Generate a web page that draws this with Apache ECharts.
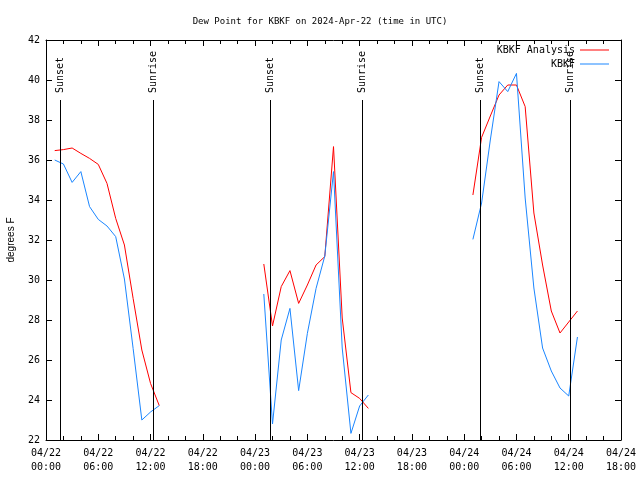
<!DOCTYPE html>
<html><head><meta charset="utf-8">
<script src="https://cdn.jsdelivr.net/npm/echarts@6/dist/echarts.min.js"></script>
<style>html,body{margin:0;padding:0;background:#fff}#c{width:640px;height:480px}</style>
</head><body><div id="c"></div>
<script>
const chartTitle = 'Dew Point for KBKF on 2024-Apr-22 (time in UTC)';
const seriesNames = ['KBKF Analysis', 'KBKF'];
const xTickLabels = ['04/22\n00:00','04/22\n06:00','04/22\n12:00','04/22\n18:00','04/23\n00:00','04/23\n06:00','04/23\n12:00','04/23\n18:00','04/24\n00:00','04/24\n06:00','04/24\n12:00','04/24\n18:00'];
// hours since 04/22 00:00 UTC
const hours1 = [1, 2, 3, 4, 5, 6, 7, 8, 9, 10, 11, 12, 13];
const hours2 = [25, 26, 27, 28, 29, 30, 31, 32, 33, 34, 35, 36, 37];
const hours3 = [49, 50, 51, 52, 53, 54, 55, 56, 57, 58, 59, 60, 61];
const analysis1 = [36.47, 36.52, 36.6, 36.33, 36.08, 35.78, 34.83, 33.08, 31.75, 29.08, 26.5, 24.83, 23.72];
const analysis2 = [30.8, 27.7, 29.67, 30.47, 28.83, 29.75, 30.75, 31.17, 36.67, 28.1, 24.37, 24.08, 23.58];
const analysis3 = [34.25, 37.13, 38.2, 39.25, 39.75, 39.75, 38.67, 33.35, 30.75, 28.45, 27.35, 27.9, 28.45];
const obs1 = [36.0, 35.8, 34.88, 35.42, 33.67, 33.03, 32.7, 32.17, 30.05, 26.58, 23.0, 23.4, 23.72];
const obs2 = [29.3, 22.8, 27.0, 28.58, 24.47, 27.33, 29.58, 31.2, 35.42, 26.6, 22.33, 23.7, 24.25];
const obs3 = [32.03, 33.85, 37.0, 39.92, 39.42, 40.33, 34.1, 29.6, 26.6, 25.45, 24.6, 24.2, 27.15];
const gapHours = [13.5, 37.5];
const sunHours = [1.65, 12.32, 25.75, 36.3, 49.78, 60.18];
const sunLabels = ['Sunset', 'Sunrise', 'Sunset', 'Sunrise', 'Sunset', 'Sunrise'];

const MONO = '"DejaVu Sans Mono", monospace';
function seg(h, v) { return h.map((x, i) => [x, v[i]]); }
const analysisData = [...seg(hours1, analysis1), [gapHours[0], '-'], ...seg(hours2, analysis2), [gapHours[1], '-'], ...seg(hours3, analysis3)];
const obsData = [...seg(hours1, obs1), [gapHours[0], '-'], ...seg(hours2, obs2), [gapHours[1], '-'], ...seg(hours3, obs3)];

const chart = echarts.init(document.getElementById('c'), null, {renderer: 'canvas'});
const axisBase = {
  axisLine: {show: true, onZero: false, lineStyle: {color: '#000', width: 1}},
  axisTick: {show: true, inside: true, length: 6, lineStyle: {color: '#000', width: 1}},
  splitLine: {show: false}
};
chart.setOption({
  animation: false,
  backgroundColor: '#fff',
  title: {text: chartTitle, left: 'center', top: 12,
    textStyle: {fontFamily: MONO, fontSize: 9, fontWeight: 'normal', color: '#000'}},
  legend: {data: seriesNames, orient: 'vertical', align: 'right', right: 31, top: 43, padding: 0,
    icon: 'rect', itemWidth: 29, itemHeight: 1, itemGap: 0,
    textStyle: {fontFamily: MONO, fontSize: 10, color: '#000', lineHeight: 14}},
  grid: {left: 46, top: 40, width: 575, height: 400, containLabel: false, outerBoundsMode: 'none'},
  xAxis: [
    Object.assign({}, axisBase, {type: 'value', position: 'bottom', min: 0, max: 66, interval: 6,
      minorTick: {show: true, splitNumber: 3, length: 4, lineStyle: {color: '#000'}},
      axisLabel: {formatter: v => xTickLabels[Math.round(v / 6)], fontFamily: MONO, fontSize: 10, color: '#000', lineHeight: 14, margin: 6}}),
    Object.assign({}, axisBase, {type: 'value', position: 'top', min: 0, max: 66, interval: 6,
      minorTick: {show: true, splitNumber: 3, length: 4, lineStyle: {color: '#000'}},
      axisLabel: {show: false}})
  ],
  yAxis: [
    Object.assign({}, axisBase, {type: 'value', position: 'left', min: 22, max: 42, interval: 2,
      axisLabel: {fontFamily: MONO, fontSize: 10, color: '#000', margin: 6},
      name: 'degrees F', nameLocation: 'middle', nameGap: 30,
      nameTextStyle: {fontFamily: '"Liberation Sans", sans-serif', fontSize: 10, color: '#000'}}),
    Object.assign({}, axisBase, {type: 'value', position: 'right', min: 22, max: 42, interval: 2,
      axisLabel: {show: false}})
  ],
  series: [
    {type: 'line', name: seriesNames[0], data: analysisData, xAxisIndex: 0, yAxisIndex: 0,
      symbol: 'none', connectNulls: false, lineStyle: {color: '#ff0000', width: 1}, itemStyle: {color: '#ff0000'}, z: 2},
    {type: 'line', name: seriesNames[1], data: obsData, xAxisIndex: 0, yAxisIndex: 0,
      symbol: 'none', connectNulls: false, lineStyle: {color: '#1a86ff', width: 1}, itemStyle: {color: '#1a86ff'}, z: 3},
    {type: 'custom', name: 'sun', xAxisIndex: 0, yAxisIndex: 0, z: 4, silent: true,
      data: sunHours.map((h, i) => [h, 30, i]),
      encode: {x: 0, y: 1},
      renderItem: function (params, api) {
        const t = api.value(0);
        const a = api.coord([t, 22]);
        const b = api.coord([t, 39]);
        const x = Math.round(a[0]) + 0.5;
        return {type: 'group', children: [
          {type: 'line', shape: {x1: x, y1: a[1], x2: x, y2: b[1]}, style: {stroke: '#000', lineWidth: 1}},
          {type: 'text', x: x, y: b[1] - 7, rotation: Math.PI / 2,
            style: {text: sunLabels[api.value(2)], fill: '#000', font: '10px "DejaVu Sans Mono"', align: 'left', verticalAlign: 'middle'}}
        ]};
      }}
  ]
});
</script></body></html>
